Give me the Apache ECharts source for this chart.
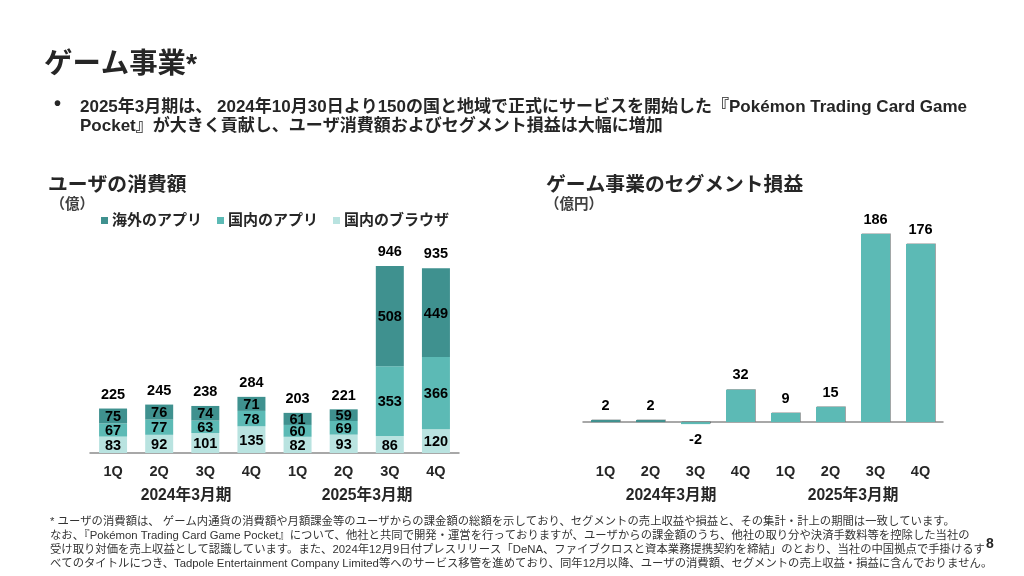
<!DOCTYPE html>
<html>
<head>
<meta charset="utf-8">
<script src="https://cdn.jsdelivr.net/npm/echarts@6/dist/echarts.min.js"></script>
<style>
html,body{margin:0;padding:0;background:#fff;}
#chart{width:1024px;height:576px;}
</style>
</head>
<body>
<div id="chart"></div>
<script>
const quarters = ['1Q', '2Q', '3Q', '4Q', '1Q', '2Q', '3Q', '4Q'];
const fiscalYears = ['2024年3月期', '2025年3月期'];

const overseasApp = [75, 76, 74, 71, 61, 59, 508, 449];
const domesticApp = [67, 77, 63, 78, 60, 69, 353, 366];
const domesticBrowser = [83, 92, 101, 135, 82, 93, 86, 120];
const userTotal = [225, 245, 238, 284, 203, 221, 946, 935];
const segmentProfit = [2, 2, -2, 32, 9, 15, 186, 176];

const pageTitle = 'ゲーム事業*';
const bulletLines = [
    '2025年3月期は、 2024年10月30日より150の国と地域で正式にサービスを開始した『Pokémon Trading Card Game',
    'Pocket』が大きく貢献し、ユーザ消費額およびセグメント損益は大幅に増加'
];
const footnotes = [
    '* ユーザの消費額は、 ゲーム内通貨の消費額や月額課金等のユーザからの課金額の総額を示しており、セグメントの売上収益や損益と、その集計・計上の期間は一致しています。',
    'なお、『Pokémon Trading Card Game Pocket』について、他社と共同で開発・運営を行っておりますが、ユーザからの課金額のうち、他社の取り分や決済手数料等を控除した当社の',
    '受け取り対価を売上収益として認識しています。また、2024年12月9日付プレスリリース「DeNA、ファイブクロスと資本業務提携契約を締結」のとおり、当社の中国拠点で手掛けるす',
    'べてのタイトルにつき、Tadpole Entertainment Company Limited等へのサービス移管を進めており、同年12月以降、ユーザの消費額、セグメントの売上収益・損益に含んでおりません。'
];

const FONT = '"Liberation Sans", "Noto Sans CJK JP", sans-serif';
const DARK = '#3f918f';
const MID = '#5cbab5';
const LIGHT = '#b9e3e0';
const INK = '#262626';

const txt = (x, y, text, size, weight, color, align) => ({
    type: 'text',
    x: x,
    y: y,
    silent: true,
    style: {
        text: text,
        fontFamily: FONT,
        fontSize: size,
        fontWeight: weight || 'normal',
        fill: color || INK,
        align: align || 'left',
        verticalAlign: 'middle'
    }
});

const stackBar = (name, data, color) => ({
    name: name,
    type: 'bar',
    stack: 'user',
    barWidth: 28,
    itemStyle: {color: color},
    label: {
        show: true,
        position: 'inside',
        offset: [0, 1],
        color: '#000',
        fontFamily: FONT,
        fontSize: 14.5,
        fontWeight: 'bold'
    },
    data: data
});

const xAxisBase = (gridIndex, margin) => ({
    type: 'category',
    gridIndex: gridIndex,
    data: quarters,
    axisTick: {show: false},
    axisLine: {onZero: true, lineStyle: {color: '#8c8c8c', width: 1.5}},
    axisLabel: {
        margin: margin,
        interval: 0,
        color: INK,
        fontFamily: FONT,
        fontSize: 14.5,
        fontWeight: 'bold'
    }
});

// 2億の棒は細いので濃い色で見せる
const segmentData = segmentProfit.map(v => {
    if (v < 0) return {value: v, label: {position: 'bottom', distance: 9}};
    if (v <= 2) return {value: v, itemStyle: {color: DARK}};
    return v;
});

const option = {
    animation: false,
    backgroundColor: '#fff',
    textStyle: {fontFamily: FONT},
    grid: [
        {left: 90, top: 266, width: 369, height: 187},
        {left: 583, top: 234, width: 360, height: 198.2}
    ],
    xAxis: [xAxisBase(0, 12), xAxisBase(1, 33)],
    yAxis: [
        {type: 'value', gridIndex: 0, show: false, min: 0, max: 946},
        {type: 'value', gridIndex: 1, show: false, min: -10, max: 186}
    ],
    legend: {
        left: 96,
        top: 208,
        itemWidth: 7,
        itemHeight: 7,
        itemGap: 15,
        icon: 'rect',
        data: ['海外のアプリ', '国内のアプリ', '国内のブラウザ'],
        textStyle: {
            color: INK,
            fontFamily: FONT,
            fontSize: 15,
            fontWeight: 'bold',
            padding: [0, 0, 0, -1]
        }
    },
    series: [
        stackBar('国内のブラウザ', domesticBrowser, LIGHT),
        stackBar('国内のアプリ', domesticApp, MID),
        stackBar('海外のアプリ', overseasApp, DARK),
        {
            name: '合計',
            type: 'line',
            symbol: 'circle',
            symbolSize: 1,
            lineStyle: {color: 'transparent'},
            itemStyle: {color: 'transparent'},
            label: {
                show: true,
                position: 'top',
                distance: 6,
                color: '#000',
                fontFamily: FONT,
                fontSize: 14.5,
                fontWeight: 'bold'
            },
            data: userTotal
        },
        {
            name: 'セグメント損益',
            type: 'bar',
            xAxisIndex: 1,
            yAxisIndex: 1,
            barWidth: 29,
            itemStyle: {
                color: MID,
                shadowColor: 'rgba(60,70,70,0.6)',
                shadowOffsetX: 0.8,
                shadowOffsetY: -0.5,
                shadowBlur: 0
            },
            label: {
                show: true,
                position: 'top',
                distance: 7,
                color: '#000',
                fontFamily: FONT,
                fontSize: 14.5,
                fontWeight: 'bold'
            },
            data: segmentData
        }
    ],
    graphic: [
        txt(44, 65, pageTitle, 28.4, 'bold'),
        txt(54, 104, '•', 20, 'bold'),
        txt(80, 107, bulletLines[0], 17, 'bold'),
        txt(80, 126, bulletLines[1], 17, 'bold'),
        txt(48, 186, 'ユーザの消費額', 19.8, 'bold'),
        txt(50.5, 205, '（億）', 14.5, 'bold', '#404040'),
        txt(546, 186, 'ゲーム事業のセグメント損益', 19.8, 'bold'),
        txt(545, 205, '（億円）', 14.5, 'bold', '#404040'),
        txt(186, 496, fiscalYears[0], 15.7, 'bold', INK, 'center'),
        txt(367, 496, fiscalYears[1], 15.7, 'bold', INK, 'center'),
        txt(671, 496, fiscalYears[0], 15.7, 'bold', INK, 'center'),
        txt(853, 496, fiscalYears[1], 15.7, 'bold', INK, 'center'),
        txt(50, 522, footnotes[0], 11.35, 'normal', '#333'),
        txt(50, 536, footnotes[1], 11.35, 'normal', '#333'),
        txt(50, 550, footnotes[2], 11.35, 'normal', '#333'),
        txt(50, 563.5, footnotes[3], 11.35, 'normal', '#333'),
        txt(990, 544, '8', 14, 'bold', INK, 'center')
    ]
};

const myChart = echarts.init(document.getElementById('chart'));
myChart.setOption(option);
</script>
</body>
</html>
